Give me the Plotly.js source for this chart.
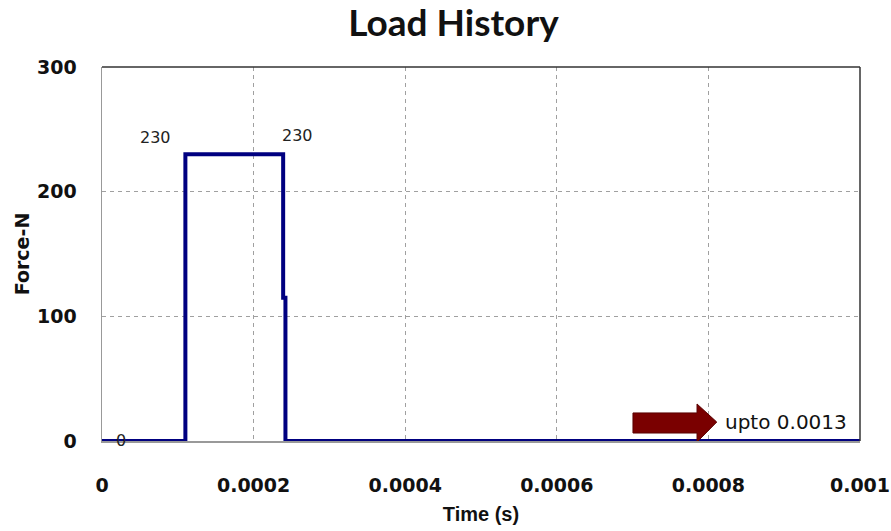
<!DOCTYPE html>
<html>
<head>
<meta charset="utf-8">
<script src="https://cdn.plot.ly/plotly-3.0.1.min.js"></script>
<style>html,body{margin:0;padding:0;background:#fff;}#chart{width:891px;height:531px;}</style>
</head>
<body>
<div id="chart"></div>
<script>
// Data
const timeS = [0, 0.00011, 0.00011, 0.000239, 0.000239, 0.000242, 0.000242, 0.001];
const forceN = [0, 0, 230, 230, 115, 115, 0, 0];
const xTicks = [0, 0.0002, 0.0004, 0.0006, 0.0008, 0.001];
const xTickText = ['0', '0.0002', '0.0004', '0.0006', '0.0008', '0.001'];
const yTicks = [0, 100, 200, 300];
const labelX = [0.00007, 0.000258, 0.000025];
const labelY = [230, 232, 0];
const labelText = ['230', '230', '0'];
// arrow (block arrow) geometry in data units
const arrowX = [0.0007005, 0.000785, 0.000811];
const arrowY = [6.4, 22.5, -0.8, 29.7, 15.2];

const trace = {
  x: timeS, y: forceN, type: 'scatter', mode: 'lines',
  line: {color: '#000080', width: 4}, hoverinfo: 'none', showlegend: false, cliponaxis: false
};

const ann = labelText.map((t, i) => ({
  x: labelX[i], y: labelY[i], text: t, showarrow: false,
  xanchor: 'center', yanchor: 'bottom', yshift: i === 2 ? -11 : 5,
  font: {family: 'DejaVu Sans, sans-serif', size: 16, color: '#222'}
}));
ann.push({
  x: arrowX[2], y: arrowY[4], text: 'upto 0.0013', showarrow: false,
  xanchor: 'left', yanchor: 'middle', xshift: 6,
  font: {family: 'DejaVu Sans, sans-serif', size: 20, color: '#111'}
});

const p = `M ${arrowX[0]},${arrowY[0]} L ${arrowX[0]},${arrowY[1]} L ${arrowX[1]},${arrowY[1]} L ${arrowX[1]},${arrowY[3]} L ${arrowX[2]},${arrowY[4]} L ${arrowX[1]},${arrowY[2]} L ${arrowX[1]},${arrowY[0]} Z`;

const layout = {
  width: 891, height: 531,
  margin: {l: 102, r: 31, t: 67, b: 90},
  paper_bgcolor: '#fff', plot_bgcolor: '#fff',
  title: {text: 'Load History', x: 0.509, xanchor: 'center', y: 0.957, yanchor: 'middle',
    font: {family: 'Lato, sans-serif', size: 37, color: '#111', weight: 'bold'}},
  xaxis: {
    range: [0, 0.001], tickvals: xTicks, ticktext: xTickText,
    showgrid: true, gridcolor: '#a0a0a0', griddash: '4px,4px', gridwidth: 1,
    showline: true, linecolor: '#999', linewidth: 1.5, mirror: false,
    zeroline: false, ticks: '', ticklabelstandoff: 27,
    tickfont: {family: 'DejaVu Sans, sans-serif', size: 19, color: '#111', weight: 'bold'},
    title: {text: 'Time (s)', standoff: 11, font: {family: 'Liberation Sans, Arial, sans-serif', size: 20, color: '#111', weight: 'bold'}}
  },
  yaxis: {
    range: [0, 300], tickvals: yTicks,
    showgrid: true, gridcolor: '#a0a0a0', griddash: '4px,4px', gridwidth: 1,
    showline: true, linecolor: '#999', linewidth: 1.5, mirror: false,
    zeroline: false, ticks: '', ticklabelstandoff: 20,
    tickfont: {family: 'DejaVu Sans, sans-serif', size: 19, color: '#111', weight: 'bold'},
    title: {text: 'Force-N', standoff: 2, font: {family: 'DejaVu Sans, sans-serif', size: 19, color: '#111', weight: 'bold'}}
  },
  annotations: ann,
  shapes: [
    {type: 'line', xref: 'paper', yref: 'paper', x0: 0, x1: 1, y0: 1, y1: 1, line: {color: '#333', width: 1.5}},
    {type: 'line', xref: 'paper', yref: 'paper', x0: 1, x1: 1, y0: 0, y1: 1, line: {color: '#333', width: 1.5}},
    {type: 'path', path: p, xref: 'x', yref: 'y', fillcolor: '#7a0000', line: {color: '#5a0000', width: 1}, layer: 'above'}
  ]
};

Plotly.newPlot('chart', [trace], layout, {displayModeBar: false, staticPlot: true});
</script>
</body>
</html>
